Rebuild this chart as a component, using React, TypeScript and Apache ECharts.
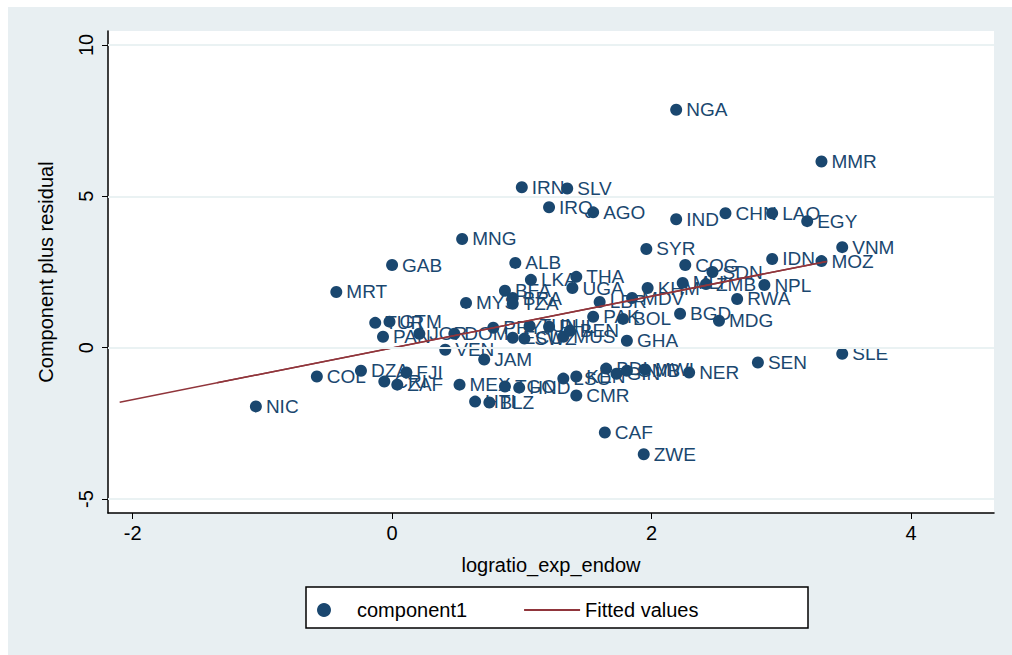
import { useEffect, useRef } from 'react'
import * as echarts from 'echarts'

const countries = ['NGA', 'MMR', 'IRN', 'SLV', 'IRQ', 'AGO', 'IND', 'CHN', 'LAO', 'EGY', 'MNG', 'SYR', 'VNM', 'IDN', 'MOZ', 'GAB', 'ALB', 'COG', 'SDN', 'LKA', 'THA', 'MLI', 'ZMB', 'NPL', 'UGA', 'KHM', 'BFA', 'MRT', 'BRA', 'MYS', 'TZA', 'LBR', 'MDV', 'RWA', 'PAK', 'BOL', 'BGD', 'MDG', 'TUR', 'GTM', 'PAN', 'JOR', 'DOM', 'PRY', 'TUN', 'PHL', 'ECU', 'SWZ', 'MUS', 'BEN', 'GHA', 'VEN', 'JAM', 'DZA', 'FJI', 'COL', 'CRI', 'ZAF', 'MEX', 'TGO', 'HND', 'KEN', 'LSO', 'BDI', 'GIN', 'GMB', 'MWI', 'NER', 'SEN', 'SLE', 'CMR', 'HTI', 'BLZ', 'NIC', 'CAF', 'ZWE']
const xValues = [2.19, 3.31, 1.0, 1.35, 1.21, 1.55, 2.19, 2.57, 2.93, 3.2, 0.54, 1.96, 3.47, 2.93, 3.31, 0.0, 0.95, 2.26, 2.47, 1.07, 1.42, 2.24, 2.42, 2.87, 1.39, 1.97, 0.87, -0.43, 0.93, 0.57, 0.93, 1.6, 1.85, 2.66, 1.55, 1.78, 2.22, 2.52, -0.13, -0.02, -0.07, 0.21, 0.48, 0.78, 1.06, 1.21, 0.93, 1.02, 1.32, 1.37, 1.81, 0.41, 0.71, -0.24, 0.11, -0.58, -0.06, 0.04, 0.52, 0.87, 0.98, 1.42, 1.32, 1.65, 1.73, 1.81, 1.95, 2.29, 2.82, 3.47, 1.42, 0.64, 0.75, -1.05, 1.64, 1.94]
const yValues = [7.86, 6.15, 5.3, 5.26, 4.64, 4.47, 4.24, 4.44, 4.44, 4.18, 3.59, 3.26, 3.32, 2.93, 2.86, 2.73, 2.8, 2.73, 2.5, 2.24, 2.34, 2.14, 2.1, 2.07, 1.97, 1.97, 1.88, 1.84, 1.64, 1.48, 1.45, 1.51, 1.64, 1.61, 1.02, 0.95, 1.12, 0.89, 0.82, 0.86, 0.36, 0.46, 0.46, 0.66, 0.72, 0.69, 0.33, 0.3, 0.36, 0.56, 0.23, -0.07, -0.39, -0.76, -0.82, -0.95, -1.12, -1.22, -1.22, -1.28, -1.32, -0.95, -1.02, -0.69, -0.86, -0.76, -0.72, -0.82, -0.49, -0.2, -1.58, -1.78, -1.81, -1.94, -2.8, -3.52]
const fitX = [-2.1, 3.35]
const fitY = [-1.8, 2.85]
const fit2X = [-1.35, 3.35]
const fit2Y = [-1.16, 2.85]
const xTicks = [-2, 0, 2, 4]
const yTicks = [-5, 0, 5, 10]

const FONT = 'Liberation Sans, Arial, sans-serif'
const BLUE = '#1a476f'
const RED = '#90353b'

export default function App() {
  const ref = useRef<HTMLDivElement>(null)

  useEffect(() => {
    if (!ref.current) return
    const chart = echarts.init(ref.current, null, { renderer: 'svg' })
    chart.setOption({
      animation: false,
      backgroundColor: '#e8eff2',
      textStyle: { fontFamily: FONT },
      graphic: [
        { type: 'rect', shape: { x: 0, y: 0, width: 1012, height: 7 }, style: { fill: '#fff' }, silent: true },
        { type: 'rect', shape: { x: 0, y: 0, width: 8, height: 655 }, style: { fill: '#fff' }, silent: true },
        { type: 'rect', z: -1, shape: { x: 108, y: 31, width: 886, height: 482 }, style: { fill: '#fff' }, silent: true },
        { type: 'rect', shape: { x: 306, y: 587, width: 502, height: 41 }, style: { fill: '#fff', stroke: '#000', lineWidth: 1.5 }, silent: true, z: 0 },
      ],
      grid: { left: 108, top: 31, width: 886, height: 482 },
      legend: {
        left: 312,
        top: 595,
        itemGap: 56,
        itemWidth: 56,
        itemHeight: 14,
        textStyle: { fontSize: 20, color: '#000', fontFamily: FONT },
        data: [
          { name: 'component1', icon: 'circle', itemStyle: { color: BLUE } },
          { name: 'Fitted values', itemStyle: { opacity: 0 } },
        ],
        z: 10,
      },
      xAxis: {
        type: 'value',
        min: -2.19,
        max: 4.64,
        name: 'logratio_exp_endow',
        nameLocation: 'middle',
        nameGap: 42,
        nameTextStyle: { fontSize: 20, color: '#000' },
        axisLine: { show: true, onZero: false, lineStyle: { color: '#000', width: 1.5 } },
        axisTick: { show: true, length: 6, customValues: xTicks, lineStyle: { color: '#000' } },
        axisLabel: { customValues: xTicks, fontSize: 20, color: '#000', margin: 10 },
        splitLine: { show: false },
      },
      yAxis: {
        type: 'value',
        min: -5.46,
        max: 10.46,
        name: 'Component plus residual',
        nameLocation: 'middle',
        nameGap: 52,
        nameTextStyle: { fontSize: 20, color: '#000' },
        axisLine: { show: true, onZero: false, lineStyle: { color: '#000', width: 1.5 } },
        axisTick: { show: true, length: 6, customValues: yTicks, lineStyle: { color: '#000' } },
        axisLabel: { customValues: yTicks, fontSize: 20, color: '#000', rotate: 90, margin: 12 },
        splitLine: { show: false },
      },
      series: [
        {
          name: 'grid',
          type: 'line',
          data: [],
          silent: true,
          markLine: {
            silent: true,
            symbol: 'none',
            label: { show: false },
            lineStyle: { color: '#eaf2f3', width: 2, type: 'solid' },
            data: yTicks.map((v) => ({ yAxis: v })),
          },
        },
        {
          name: 'component1',
          type: 'scatter',
          symbolSize: 12,
          itemStyle: { color: BLUE, opacity: 1 },
          label: {
            show: true,
            position: 'right',
            distance: 4,
            fontSize: 19,
            color: BLUE,
            formatter: (p: any) => p.data[2],
          },
          data: xValues.map((x, i) => [x, yValues[i], countries[i]]),
          z: 3,
        },
        {
          name: 'Fitted values',
          type: 'line',
          symbol: 'none',
          lineStyle: { color: RED, width: 1.5 },
          itemStyle: { color: RED },
          data: fitX.map((x, i) => [x, fitY[i]]),
          z: 4,
        },
        {
          name: 'Fitted values 2',
          type: 'line',
          symbol: 'none',
          lineStyle: { color: RED, width: 1.5 },
          data: fit2X.map((x, i) => [x, fit2Y[i]]),
          z: 4,
        },
      ],
    })
    return () => chart.dispose()
  }, [])

  return <div ref={ref} style={{ position: 'absolute', left: 0, top: 0, width: 1012, height: 655 }} />
}
